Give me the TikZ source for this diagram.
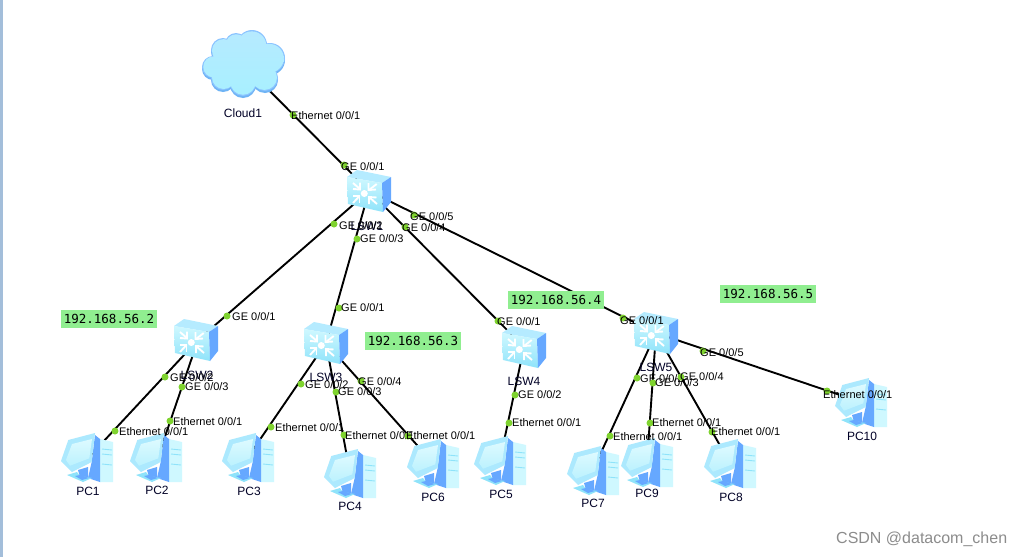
\documentclass[tikz,border=0pt]{standalone}
\usepackage{fontspec}
\setmainfont{Liberation Sans}
\newfontfamily\ipfont{DejaVu Sans Mono}
\definecolor{dotgreen}{HTML}{7FD32F}
\definecolor{ipgreen}{HTML}{90EE90}
\definecolor{iconblue}{HTML}{66A8FF}
\definecolor{iconlight}{HTML}{CFF8FF}
\definecolor{iconmid}{HTML}{8FE3FA}
\definecolor{icontop}{HTML}{B5EBFF}
\definecolor{framebar}{HTML}{A3BEDA}
\definecolor{cloudedge}{HTML}{8CC4FF}
\definecolor{cloudshade}{HTML}{6FB4F5}
\definecolor{cloudtop}{HTML}{B6EAFF}
\definecolor{cloudbody}{HTML}{A8F0FF}
\tikzset{
  hub/.style={inner sep=0pt,minimum size=0pt,outer sep=0pt},
  link/.style={draw=black,line width=1.9pt},
  portdot/.style={circle,fill=dotgreen,inner sep=0pt,minimum size=7pt},
  portlabel/.style={anchor=west,inner sep=0pt,font=\fontsize{11}{11}\selectfont,text=black},
  devlabel/.style={anchor=center,inner sep=0pt,font=\fontsize{12}{12}\selectfont,text=black!85!blue},
  iplabel/.style={fill=ipgreen,inner sep=0pt,minimum width=96pt,minimum height=18pt,font=\ipfont\fontsize{12.5}{12.5}\selectfont},
  switchicon/.pic={
    \fill[icontop] (-22,-14) -- (-12,-21) -- (22,-14) -- (13,-8) -- cycle;
    \shade[top color=iconlight,bottom color=iconmid] (-22,-14) -- (13,-8) -- (14,21) -- (-21,13) -- cycle;
    \fill[iconblue] (13,-8) -- (22,-14) -- (22,11) -- (14,21) -- cycle;
    \fill[white] (-4.7,2.5) circle (3.5pt);
    \begin{scope}[draw=white,line width=1.9pt,line join=miter]
      \draw (-16,-8) -- (-9,-2);
      \draw (-9,-8.5) -- (-9,-1.5) -- (-16,-2);
      \draw (7.7,-7) -- (0,-1);
      \draw (-0.5,-8) -- (-0.5,-1) -- (7,-1.5);
      \draw (-16,12) -- (-9.5,5);
      \draw (-16,5) -- (-9.5,5) -- (-9.5,12);
      \draw (8,13) -- (0,6);
      \draw (0,13) -- (0,6) -- (7.5,6.5);
    \end{scope}
  },
  pcicon/.pic={
    \fill[iconlight] (13,-18) -- (26,-15) -- (26,25) -- (13,25) -- cycle;
    \fill[iconblue] (8,-22) -- (13,-18) -- (13,25) -- (1,21) -- (4.7,5) -- cycle;
    \draw[iconmid,line width=0.9pt] (15,-8) -- (25,-7) (15,-3) -- (25,-2) (15,7) -- (25,8);
    \fill[iconblue] (-9,13) -- (1,10) -- (1,21) -- (-7,20) -- cycle;
    \fill[iconmid] (-20,18) -- (-10,15) -- (-7,19) -- (5,21) -- (-4,25) -- cycle;
    \fill[iconblue] (-12,19) -- (-7,18) -- (2,21) -- (-5,23) -- cycle;
    \fill[icontop!75!iconmid] (-26,4) -- (-18.7,-17) -- (8,-24) -- (4.7,5) -- (-15,15) -- cycle;
    \shade[top color=iconlight!70!white,bottom color=iconlight!70!iconmid] (-21,3) -- (-15,-13) -- (5,-18) -- (2.3,1.3) -- (-17,8.7) -- cycle;
  },
  cloudicon/.pic={
    \def\cloudshape{
      (-31,2) circle (11pt) (-21,-15) circle (12pt) (8,-20) circle (15pt)
      (26,-7) circle (15pt) (21,13) circle (13pt) (-1,18) circle (13pt)
      (-21,13) circle (12pt) (0,0) circle (24pt) (-8,-21) circle (11pt)}
    \fill[cloudshade,yshift=-2pt] \cloudshape;
    \fill[cloudedge] \cloudshape;
    \shade[top color=cloudtop,bottom color=cloudbody,xscale=.97,yscale=.96] \cloudshape;
  }
}
\newcommand{\portat}[4]{\node[portdot] (#1) at (#2) {}; \node[portlabel] (#1t) at (#3) {#4};}
\begin{document}
\begin{tikzpicture}[x=1pt,y=-1pt]
\useasboundingbox (0,0) rectangle (1032,557);
\fill[white] (0,0) rectangle (1032,557);
\fill[framebar] (0,0) rectangle (3,557);

% device anchors
\node[hub] (cloud) at (244,65) {};
\node[hub] (lsw1) at (369,191) {};
\node[hub] (lsw2) at (198,340) {};
\node[hub] (lsw3) at (326,343) {};
\node[hub] (lsw4) at (524,347) {};
\node[hub] (lsw5) at (656,333) {};
\node[hub] (pc1) at (89,457) {};
\node[hub] (pc2) at (158,457) {};
\node[hub] (pc3) at (248,457) {};
\node[hub] (pc4) at (350,473) {};
\node[hub] (pc5) at (500,460) {};
\node[hub] (pc6) at (433,463) {};
\node[hub] (pc7) at (593,470) {};
\node[hub] (pc8) at (730,463) {};
\node[hub] (pc9) at (647,462) {};
\node[hub] (pc10) at (861,402) {};

% connectors
\draw[link] (cloud) -- (lsw1);
\draw[link] (lsw1) -- (lsw2);
\draw[link] (lsw1) -- (lsw3);
\draw[link] (lsw1) -- (lsw4);
\draw[link] (lsw1) -- (lsw5);
\draw[link] (lsw2) -- (pc1);
\draw[link] (lsw2) -- (pc2);
\draw[link] (lsw3) -- (pc3);
\draw[link] (lsw3) -- (pc4);
\draw[link] (lsw3) -- (pc6);
\draw[link] (lsw4) -- (pc5);
\draw[link] (lsw5) -- (pc7);
\draw[link] (lsw5) -- (pc9);
\draw[link] (lsw5) -- (pc8);
\draw[link] (lsw5) -- (pc10);

% icons
\pic at (cloud) {cloudicon};
\pic at (369,191) {switchicon};
\pic at (196,340) {switchicon};
\pic at (326,343) {switchicon};
\pic at (524,347) {switchicon};
\pic at (656,333) {switchicon};
\pic at (87,457) {pcicon};
\pic at (156,457) {pcicon};
\pic at (248,457) {pcicon};
\pic at (350,473) {pcicon};
\pic at (500,460) {pcicon};
\pic at (433,463) {pcicon};
\pic at (593,470) {pcicon};
\pic at (730,463) {pcicon};
\pic at (647,462) {pcicon};
\pic at (861,402) {pcicon};

% device labels
\node[devlabel] (lcloud) at (243,113) {Cloud1};
\node[devlabel] (l1) at (367,226) {LSW1};
\node[devlabel] (l2) at (197,375) {LSW2};
\node[devlabel] (l3) at (326,377) {LSW3};
\node[devlabel] (l4) at (524,381) {LSW4};
\node[devlabel] (l5) at (656,367) {LSW5};
\node[devlabel] (lp1) at (88,491) {PC1};
\node[devlabel] (lp2) at (157,490) {PC2};
\node[devlabel] (lp3) at (249,491) {PC3};
\node[devlabel] (lp4) at (350,506) {PC4};
\node[devlabel] (lp5) at (501,494) {PC5};
\node[devlabel] (lp6) at (433,497) {PC6};
\node[devlabel] (lp7) at (593,503) {PC7};
\node[devlabel] (lp8) at (731,497) {PC8};
\node[devlabel] (lp9) at (647,493) {PC9};
\node[devlabel] (lp10) at (862,436) {PC10};

% ports
\portat{p01}{293,115}{291,116}{Ethernet 0/0/1}
\portat{p02}{344,165}{341,167}{GE 0/0/1}
\portat{p03}{334,224}{339,226}{GE 0/0/2}
\portat{p04}{357,239}{360,239}{GE 0/0/3}
\portat{p05}{414,215}{410,217}{GE 0/0/5}
\portat{p06}{405,227}{402,228}{GE 0/0/4}
\portat{p07}{227,316}{232,317}{GE 0/0/1}
\portat{p08}{339,308}{341,308}{GE 0/0/1}
\portat{p09}{498,321}{497,322}{GE 0/0/1}
\portat{p10}{623,318}{620,321}{GE 0/0/1}
\portat{p11}{165,377}{170,378}{GE 0/0/2}
\portat{p12}{182,387}{185,387}{GE 0/0/3}
\portat{p13}{170,421}{173,422}{Ethernet 0/0/1}
\portat{p14}{115,431}{119,432}{Ethernet 0/0/1}
\portat{p15}{301,384}{305,385}{GE 0/0/2}
\portat{p16}{336,392}{338,392}{GE 0/0/3}
\portat{p17}{361,381}{358,382}{GE 0/0/4}
\portat{p18}{271,427}{275,428}{Ethernet 0/0/1}
\portat{p19}{344,435}{345,436}{Ethernet 0/0/1}
\portat{p20}{408,436}{406,436}{Ethernet 0/0/1}
\portat{p21}{515,395}{518,395}{GE 0/0/2}
\portat{p22}{509,423}{512,423}{Ethernet 0/0/1}
\portat{p23}{637,378}{640,379}{GE 0/0/2}
\portat{p24}{653,383}{655,383}{GE 0/0/3}
\portat{p25}{681,377}{680,377}{GE 0/0/4}
\portat{p26}{703,351}{700,353}{GE 0/0/5}
\portat{p27}{610,436}{613,437}{Ethernet 0/0/1}
\portat{p28}{650,423}{652,423}{Ethernet 0/0/1}
\portat{p29}{712,432}{711,432}{Ethernet 0/0/1}
\portat{p30}{827,391}{823,395}{Ethernet 0/0/1}

% address tags
\node[iplabel] (ip2) at (109,319) {192.168.56.2};
\node[iplabel] (ip3) at (413,341) {192.168.56.3};
\node[iplabel] (ip4) at (556,299.5) {192.168.56.4};
\node[iplabel] (ip5) at (768,294) {192.168.56.5};

% watermark
\node[anchor=west,inner sep=0pt,font=\fontsize{16}{16}\selectfont,text=black!45] (mark) at (836,539) {CSDN @datacom\_chen};
\end{tikzpicture}
\end{document}
